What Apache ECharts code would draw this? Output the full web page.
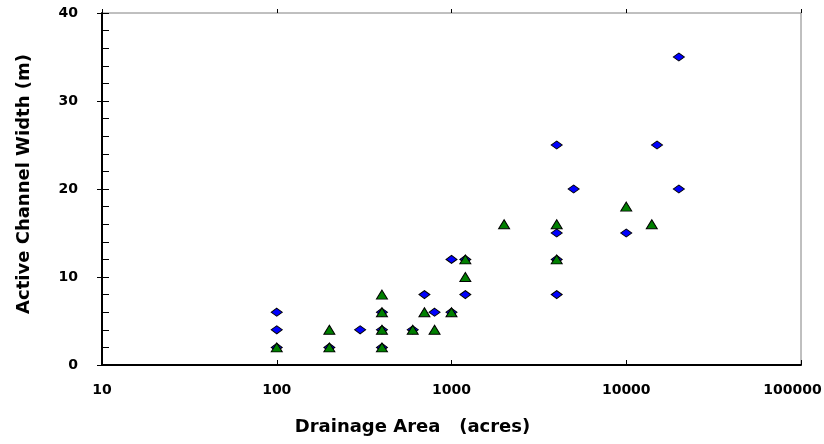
<!DOCTYPE html>
<html>
<head>
<meta charset="utf-8">
<script src="https://cdn.jsdelivr.net/npm/echarts@6/dist/echarts.min.js"></script>
<style>
  html, body { margin: 0; padding: 0; background: #fff; }
  #chart { width: 824px; height: 444px; }
</style>
</head>
<body>
<div id="chart"></div>
<script>
// diamonds (blue)
var blueArea  = [100, 100, 100, 200, 300, 400, 400, 400, 600, 700, 800, 1000, 1000, 1200, 1200, 4000, 4000, 4000, 4000, 5000, 10000, 15000, 20000, 20000];
var blueWidth = [6,   4,   2,   2,   4,   6,   4,   2,   4,   8,   6,   12,   6,    12,   8,    25,   15,   12,   8,    20,   15,    25,    35,    20];
// triangles (green)
var greenArea  = [100, 200, 200, 400, 400, 400, 400, 600, 700, 800, 1000, 1200, 1200, 2000, 4000, 4000, 10000, 14000];
var greenWidth = [2,   4,   2,   8,   6,   4,   2,   4,   6,   4,   6,    12,   10,   16,   16,   12,   18,    16];

var fontFam = 'DejaVu Sans';

function pairs(xs, ys) {
	var out = [];
	for (var i = 0; i < xs.length; i++) {
		out.push([xs[i], ys[i]]);
	}
	return out;
}

var myChart = echarts.init(document.getElementById('chart'), null, { renderer: 'canvas' });

var option = {
	backgroundColor: '#ffffff',
	animation: false,
	grid: {
		left: 102,
		right: 23,
		top: 13,
		bottom: 79,
		outerBoundsMode: 'none',
		containLabel: false,
		show: true,
		borderColor: '#808080',
		borderWidth: 1
	},
	xAxis: [
		{
			type: 'log',
			logBase: 10,
			min: 10,
			max: 100000,
			name: 'Drainage Area   (acres)',
			nameLocation: 'middle',
			nameGap: 53,
			nameTextStyle: {
				fontFamily: fontFam, fontWeight: 'bold', fontSize: 18, color: '#000',
				padding: [0, 78, 0, 0]
			},
			axisLine: { show: true, onZero: false, lineStyle: { color: '#000', width: 2 } },
			axisTick: { show: true, inside: true, length: 5, lineStyle: { color: '#000', width: 1 } },
			minorTick: { show: false },
			splitLine: { show: false },
			axisLabel: {
				margin: 18,
				fontFamily: fontFam, fontWeight: 'bold', fontSize: 14, color: '#000',
				formatter: function (v) {
					var n = Math.round(v);
					// last label sits a bit left of its tick, as in the original
					if (n === 100000) return '{t|' + n + '}{sp|}';
					return String(n);
				},
				rich: {
					t: { fontFamily: fontFam, fontWeight: 'bold', fontSize: 14, color: '#000' },
					sp: { width: 17, fontSize: 14 }
				}
			}
		},
		{
			// outer half of the crossing ticks
			type: 'log',
			logBase: 10,
			min: 10,
			max: 100000,
			axisLine: { show: false, onZero: false },
			axisTick: { show: true, inside: false, length: 4, lineStyle: { color: '#000', width: 1 } },
			axisLabel: { show: false },
			splitLine: { show: false }
		}
	],
	yAxis: [
		{
			type: 'value',
			min: 0,
			max: 40,
			interval: 10,
			name: 'Active Channel Width (m)',
			nameLocation: 'middle',
			nameGap: 69,
			nameTextStyle: {
				fontFamily: fontFam, fontWeight: 'bold', fontSize: 18, color: '#000',
				padding: [0, 0, 0, 10]
			},
			axisLine: { show: true, onZero: false, lineStyle: { color: '#000', width: 2 } },
			axisTick: { show: true, inside: true, length: 7, lineStyle: { color: '#000', width: 1 } },
			minorTick: { show: true, splitNumber: 5, length: 7, lineStyle: { color: '#000', width: 1 } },
			splitLine: { show: false },
			axisLabel: {
				margin: 24,
				fontFamily: fontFam, fontWeight: 'bold', fontSize: 14, color: '#000'
			}
		},
		{
			type: 'value',
			min: 0,
			max: 40,
			interval: 10,
			position: 'left',
			axisLine: { show: false, onZero: false },
			axisTick: { show: true, inside: false, length: 5, lineStyle: { color: '#000', width: 1 } },
			axisLabel: { show: false },
			splitLine: { show: false }
		}
	],
	series: [
		{
			name: 'diamonds',
			type: 'scatter',
			xAxisIndex: 0,
			yAxisIndex: 0,
			symbol: 'diamond',
			symbolSize: [11, 8],
			itemStyle: { color: '#0000ff', borderColor: '#000', borderWidth: 1, opacity: 1 },
			data: pairs(blueArea, blueWidth)
		},
		{
			name: 'triangles',
			type: 'scatter',
			xAxisIndex: 0,
			yAxisIndex: 0,
			symbol: 'triangle',
			symbolSize: [11, 9],
			itemStyle: { color: '#008000', borderColor: '#000', borderWidth: 1, opacity: 1 },
			data: pairs(greenArea, greenWidth)
		}
	]
};

myChart.setOption(option);
</script>
</body>
</html>
